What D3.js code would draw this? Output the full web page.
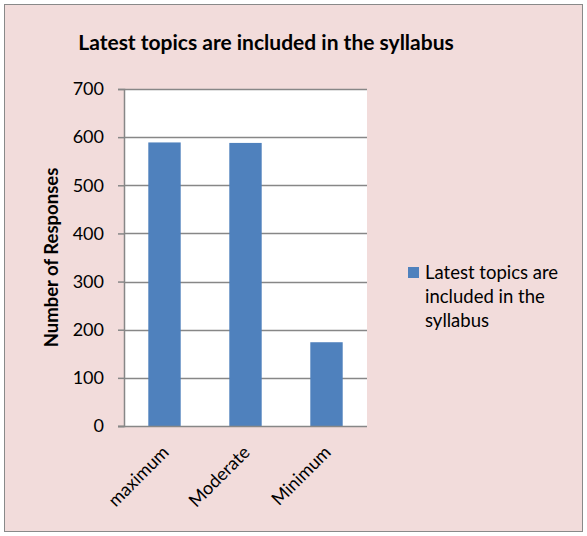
<!DOCTYPE html>
<html>
<head>
<meta charset="utf-8">
<script src="https://cdn.jsdelivr.net/npm/d3@7"></script>
<style>
  body { margin: 0; background: #fff; }
  text { font-family: Lato, "Open Sans", sans-serif; fill: #000; }
</style>
</head>
<body>
<div id="chart"></div>
<script>
// chart data
var categories = ["maximum", "Moderate", "Minimum"];
var values = [589, 588, 174];
var yTicks = [0, 100, 200, 300, 400, 500, 600, 700];
var seriesName = "Latest topics are included in the syllabus";
var legendLines = ["Latest topics are", "included in the", "syllabus"];

var width = 587;
var height = 536;

var svg = d3.select("#chart")
    .append("svg")
    .attr("width", width)
    .attr("height", height);

// background + border
svg.append("rect")
    .attr("x", 4.5).attr("y", 4.5)
    .attr("width", 578).attr("height", 527)
    .attr("fill", "#f2dcdb")
    .attr("stroke", "#898989")
    .attr("stroke-width", 1);

var plot = { left: 124, right: 367, top: 89, bottom: 426 };

var x = d3.scaleBand()
    .domain(categories)
    .range([plot.left, plot.right])
    .paddingInner(0.6)
    .paddingOuter(0.3);

var y = d3.scaleLinear()
    .domain([0, 700])
    .range([plot.bottom, plot.top]);

// plot area
svg.append("rect")
    .attr("x", plot.left).attr("y", plot.top)
    .attr("width", plot.right - plot.left)
    .attr("height", plot.bottom - plot.top)
    .attr("fill", "#fff");

// gridlines
svg.append("g")
    .selectAll("line")
    .data(yTicks.filter(function (d) { return d > 0; }))
    .enter()
    .append("line")
    .attr("x1", plot.left).attr("x2", plot.right)
    .attr("y1", function (d) { return Math.round(y(d)) + 0.5; })
    .attr("y2", function (d) { return Math.round(y(d)) + 0.5; })
    .attr("stroke", "#878787")
    .attr("stroke-width", 1.5);

// bars
svg.append("g")
    .selectAll("rect")
    .data(values)
    .enter()
    .append("rect")
    .attr("x", function (d, i) { return x(categories[i]); })
    .attr("y", function (d) { return y(d); })
    .attr("width", x.bandwidth())
    .attr("height", function (d) { return plot.bottom - y(d); })
    .attr("fill", "#4f81bd");

// y axis
var yAxis = svg.append("g")
    .attr("transform", "translate(" + plot.left + ",0)")
    .call(d3.axisLeft(y).tickValues(yTicks).tickSize(6).tickPadding(14));
yAxis.select(".domain").attr("stroke", "#878787").attr("stroke-width", 1.5);
yAxis.selectAll(".tick line").attr("stroke", "#878787").attr("stroke-width", 1.5);
yAxis.selectAll(".tick text")
    .style("font-family", "Lato, 'Open Sans', sans-serif")
    .style("font-size", "18px")
    .attr("fill", "#000");

// x axis line
svg.append("line")
    .attr("x1", plot.left - 6).attr("x2", plot.right)
    .attr("y1", plot.bottom + 0.5).attr("y2", plot.bottom + 0.5)
    .attr("stroke", "#878787")
    .attr("stroke-width", 1.5);

// x labels rotated
svg.append("g")
    .selectAll("text")
    .data(categories)
    .enter()
    .append("text")
    .attr("transform", function (d) {
        return "translate(" + (x(d) + x.bandwidth() / 2 + 1) + "," + (plot.bottom + 23) + ") rotate(-45)";
    })
    .attr("text-anchor", "end")
    .attr("dy", "0.35em")
    .style("font-size", "18px")
    .text(function (d) { return d; });

// title
svg.append("text")
    .attr("x", 266)
    .attr("y", 50)
    .attr("text-anchor", "middle")
    .style("font-size", "21px")
    .style("font-weight", "bold")
    .text(seriesName);

// y axis title
svg.append("text")
    .attr("transform", "translate(58," + ((plot.top + plot.bottom) / 2) + ") rotate(-90)")
    .attr("text-anchor", "middle")
    .style("font-size", "18.5px")
    .style("font-weight", "bold")
    .text("Number of Responses");

// legend
var legend = svg.append("g");
legend.append("rect")
    .attr("x", 408).attr("y", 267)
    .attr("width", 11).attr("height", 11)
    .attr("fill", "#4f81bd");
legend.selectAll("text")
    .data(legendLines)
    .enter()
    .append("text")
    .attr("x", 425)
    .attr("y", function (d, i) { return 279 + i * 24; })
    .style("font-size", "18.5px")
    .text(function (d) { return d; });
</script>
</body>
</html>
